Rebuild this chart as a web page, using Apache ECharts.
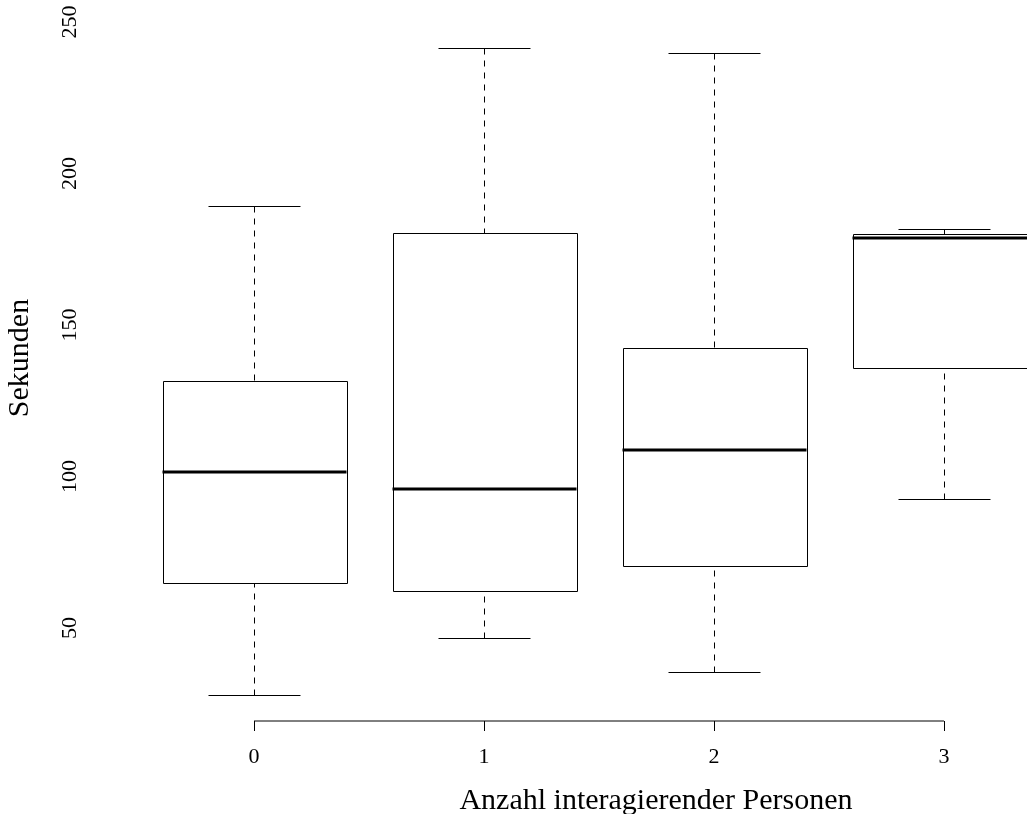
<!DOCTYPE html>
<html>
<head>
<meta charset="utf-8">
<script src="https://cdn.jsdelivr.net/npm/echarts@6/dist/echarts.min.js"></script>
<style>
  html, body { margin: 0; padding: 0; background: #fff; }
  #chart { width: 1027px; height: 814px; }
</style>
</head>
<body>
<div id="chart"></div>
<script>
// ---- data ----
const categories   = ['0', '1', '2', '3'];
const lowWhisker   = [27.9, 46.7, 35.5, 92.6];
const lowerQuart   = [64.9, 62.2, 70.5, 135.8];
const medians      = [101.5, 95.9, 108.7, 178.7];
const upperQuart   = [131.5, 180.4, 142.4, 180.0];
const highWhisker  = [189.3, 241.4, 239.8, 181.7];
const yTickValues  = [50, 100, 150, 200, 250];
const xTitle = 'Anzahl interagierender Personen';
const yTitle = 'Sekunden';
const yMin = 19.3, yMax = 250;
// x range: groups sit at 0..3; the plot area is cut off at the right edge
const xMin = -0.5, xMax = 3.361;

const FONT = '"Liberation Serif", "DejaVu Serif", serif';
const xPositions = categories.map((c, i) => i);

const boxData = categories.map((c, i) =>
  [xPositions[i], lowWhisker[i], lowerQuart[i], medians[i], upperQuart[i], highWhisker[i]]);

const crisp = v => Math.round(v) + 0.5;

function renderBox(params, api) {
  const i = api.value(0);
  const lo = api.coord([i, api.value(1)]);
  const b1 = api.coord([i, api.value(2)]);
  const md = api.coord([i, api.value(3)]);
  const b3 = api.coord([i, api.value(4)]);
  const hi = api.coord([i, api.value(5)]);
  const unit = api.size([1, 0])[0];
  const hw = unit * 0.4, cw = unit * 0.2;
  const x = crisp(md[0]);
  const yLo = crisp(lo[1]), yB1 = crisp(b1[1]), yB3 = crisp(b3[1]), yHi = crisp(hi[1]);
  const dashed = { stroke: '#000', lineWidth: 1, lineDash: [6, 6], fill: null };
  const solid = { stroke: '#000', lineWidth: 1, fill: null };
  return {
    type: 'group',
    children: [
      { type: 'line', shape: { x1: x, y1: yHi, x2: x, y2: yB3 }, style: dashed },
      { type: 'line', shape: { x1: x, y1: yLo, x2: x, y2: yB1 }, style: dashed },
      { type: 'line', shape: { x1: x - cw, y1: yHi, x2: x + cw, y2: yHi }, style: solid },
      { type: 'line', shape: { x1: x - cw, y1: yLo, x2: x + cw, y2: yLo }, style: solid },
      { type: 'rect', shape: { x: crisp(x - hw), y: yB3, width: Math.round(2 * hw), height: yB1 - yB3 },
        style: { stroke: '#000', lineWidth: 1, fill: '#fff' } },
      { type: 'line', shape: { x1: x - hw, y1: Math.round(md[1]), x2: x + hw, y2: Math.round(md[1]) },
        style: { stroke: '#000', lineWidth: 3 } }
    ]
  };
}

const chart = echarts.init(document.getElementById('chart'), null, { renderer: 'canvas' });
chart.setOption({
  animation: false,
  backgroundColor: '#fff',
  grid: { left: 139, top: 22, right: 0, height: 699, containLabel: false },
  xAxis: {
    type: 'value',
    min: xMin,
    max: xMax,
    axisLine: { show: false },
    axisTick: { show: true, length: 10, customValues: xPositions, lineStyle: { color: '#000', width: 1 } },
    axisLabel: {
      color: '#000', fontFamily: FONT, fontSize: 22, margin: 25,
      customValues: xPositions,
      formatter: v => categories[Math.round(v)]
    },
    splitLine: { show: false }
  },
  yAxis: {
    type: 'value',
    min: yMin,
    max: yMax,
    axisLine: { show: false },
    axisTick: { show: false },
    splitLine: { show: false },
    axisLabel: {
      color: '#000', fontFamily: FONT, fontSize: 22, rotate: 90, margin: 58,
      customValues: yTickValues,
      formatter: v => String(v)
    }
  },
  graphic: [
    { type: 'text', x: 656, y: 801,
      style: { text: xTitle, fontFamily: FONT, fontSize: 30, fill: '#000',
               textAlign: 'center', textVerticalAlign: 'middle' } },
    { type: 'text', x: 20, y: 358, rotation: Math.PI / 2,
      style: { text: yTitle, fontFamily: FONT, fontSize: 30, fill: '#000',
               textAlign: 'center', textVerticalAlign: 'middle' } }
  ],
  series: [
    {
      type: 'custom',
      renderItem: renderBox,
      data: boxData,
      encode: { x: 0, y: [1, 2, 3, 4, 5] },
      clip: false,
      silent: true
    },
    {
      type: 'line',
      data: [[xPositions[0], yMin], [xPositions[xPositions.length - 1], yMin]],
      symbol: 'none',
      lineStyle: { color: '#000', width: 1 },
      silent: true,
      clip: false
    }
  ]
});
</script>
</body>
</html>
